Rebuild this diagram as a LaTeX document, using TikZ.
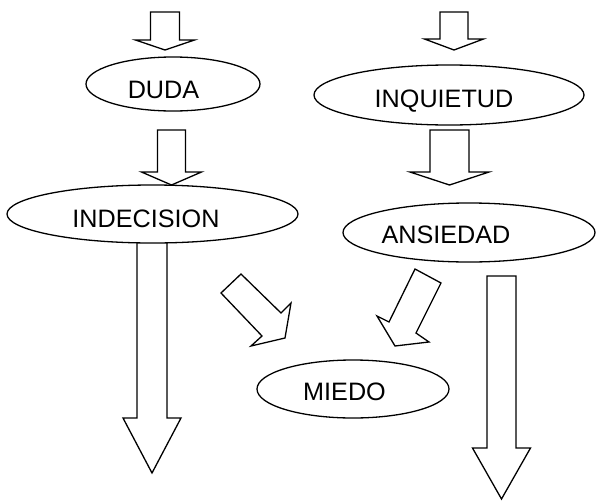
\documentclass[tikz,border=0pt]{standalone}
\usepackage{fontspec}
\setmainfont{Liberation Sans}
\usetikzlibrary{shapes.geometric}
\tikzset{
  oval/.style={draw, ellipse, line width=1.3pt, fill=white, inner sep=0pt},
  lbl/.style={inner sep=0pt, anchor=base, font=\fontsize{25.2}{29}\selectfont},
  blk/.style={draw, line width=1.3pt, line join=miter, fill=white}
}
% vertical block arrow: cx, half shaft, top, head base, half head, tip
\newcommand\vblockarrow[6]{%
  \draw[blk] (#1-#2,#3) -- (#1+#2,#3) -- (#1+#2,#4) -- (#1+#5,#4) -- (#1,#6)
    -- (#1-#5,#4) -- (#1-#2,#4) -- cycle;}
\begin{document}
\begin{tikzpicture}[x=1pt,y=-1pt]
\useasboundingbox (0,0) rectangle (597,501);
% block arrows
\vblockarrow{165}{14.5}{12}{40}{29.5}{50}
\vblockarrow{171.5}{14}{130}{172}{30}{185}
\vblockarrow{152}{15}{236}{418}{29}{473}
\vblockarrow{454}{14}{12}{39}{29.5}{50}
\vblockarrow{449.5}{19.5}{130}{172}{39.5}{185}
\vblockarrow{501.5}{14.5}{276}{448}{29}{499}
\draw[blk] (221,293) -- (241,274) -- (281,313) -- (291,303) -- (285,338)
  -- (251,346) -- (262,336) -- cycle;
\draw[blk] (415,269) -- (441,283) -- (416,333) -- (429,342) -- (395,346)
  -- (377,316) -- (389,322) -- cycle;
% ellipses
\node[oval, minimum width=174pt, minimum height=54pt] (duda) at (173,84) {};
\node[oval, minimum width=291pt, minimum height=58pt] (indecision) at (152.5,214) {};
\node[oval, minimum width=270pt, minimum height=60pt] (inquietud) at (449,95) {};
\node[oval, minimum width=252pt, minimum height=59pt] (ansiedad) at (469,232.5) {};
\node[oval, minimum width=192pt, minimum height=58pt] (miedo) at (353,389) {};
% labels
\node[lbl] (tduda) at (163.5,98) {DUDA};
\node[lbl] (tindecision) at (146,227) {INDECISION};
\node[lbl] (tinquietud) at (444,107) {INQUIETUD};
\node[lbl] (tansiedad) at (446,243) {ANSIEDAD};
\node[lbl] (tmiedo) at (344.5,400) {MIEDO};
\end{tikzpicture}
\end{document}
